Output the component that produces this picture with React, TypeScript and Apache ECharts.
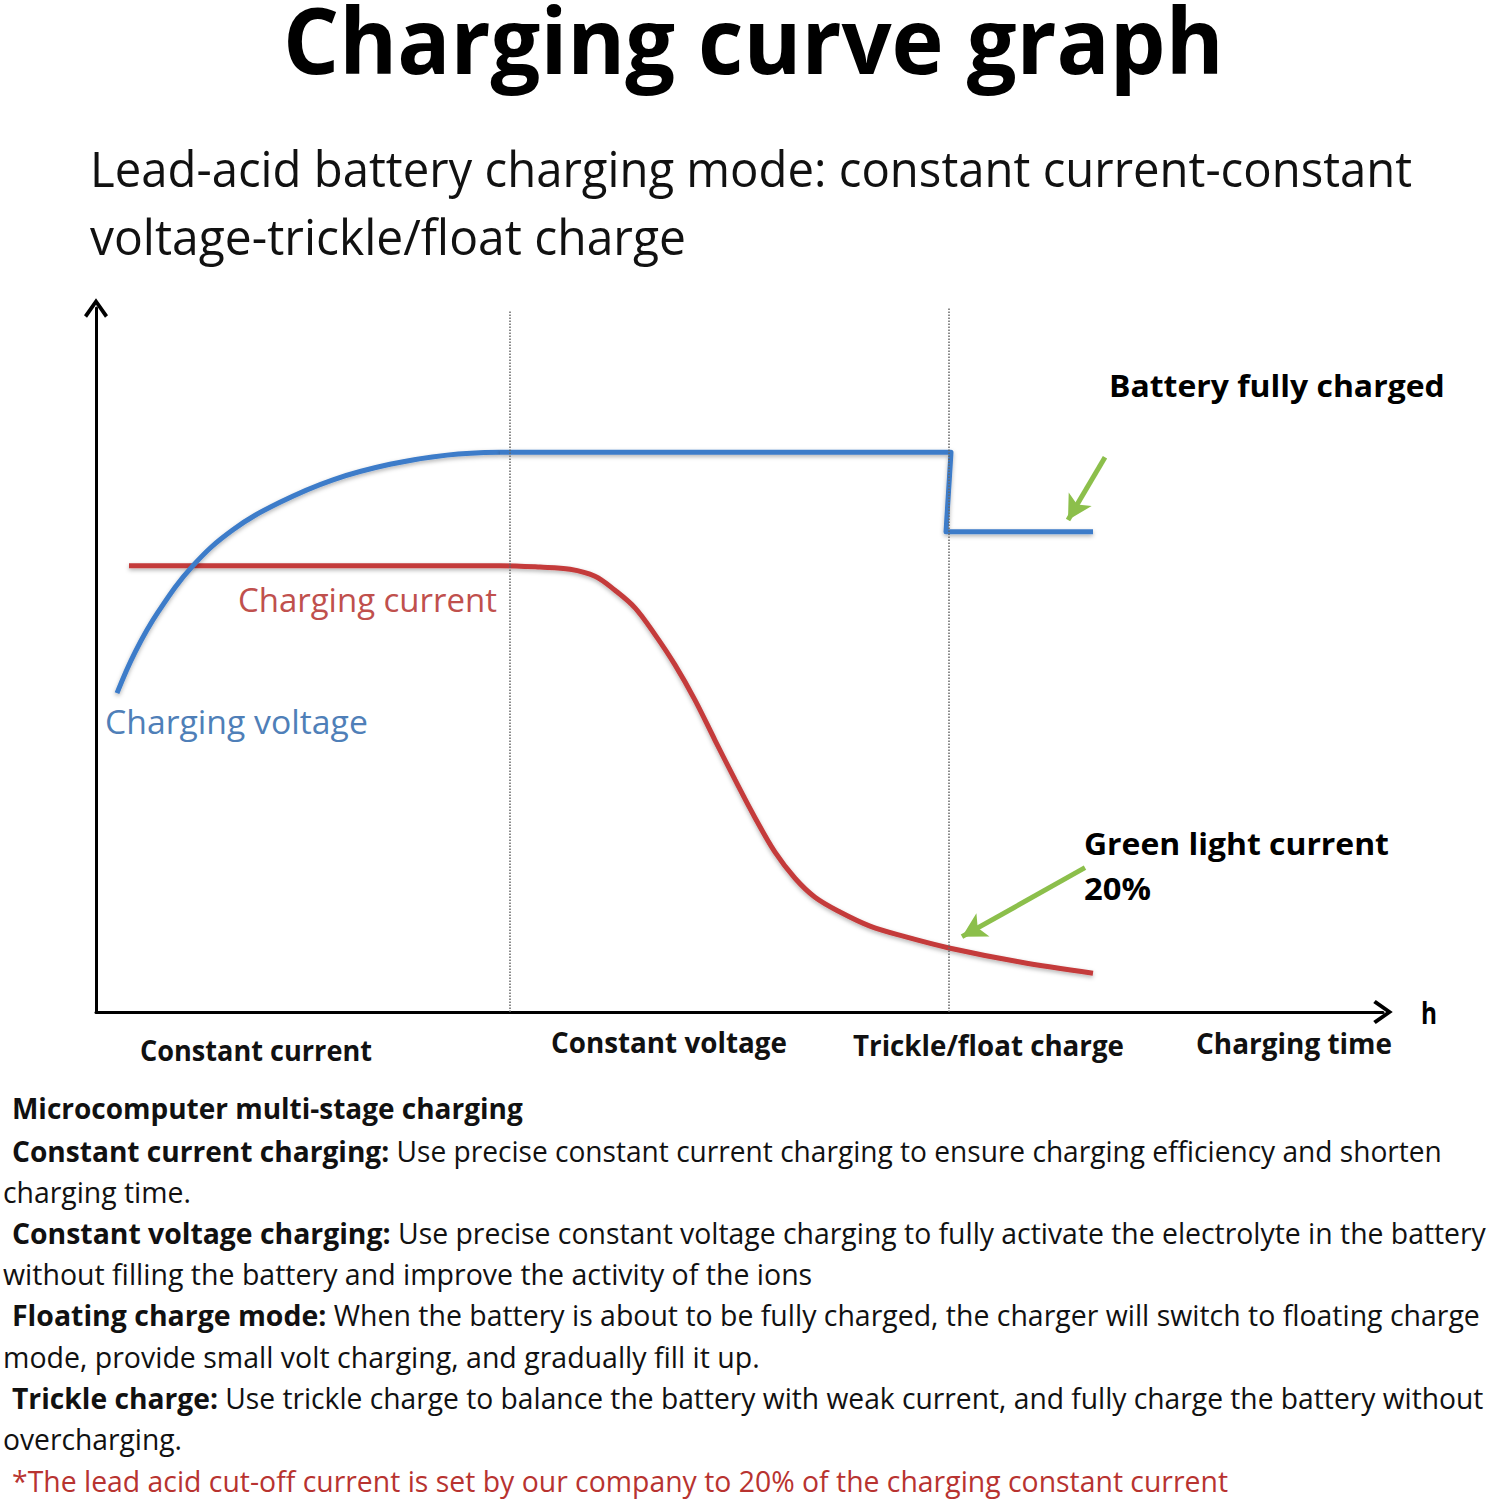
import React, { useEffect, useRef } from "react";
import * as echarts from "echarts";

// ---------- data (x: time units, y: relative level 0-100) ----------
const voltageRise: number[][] = [
  [2.1, 45.3], [3.9, 51.1], [6.2, 56.8], [9.7, 63.4], [13.7, 68.5],
  [18.4, 72.4], [23.7, 75.6], [29.4, 77.8], [35.1, 79.1], [40.4, 79.5],
];
const voltageHold: number[][] = [
  [40.4, 79.5], [85.5, 79.5], [85.0, 68.2], [99.7, 68.2],
];
const chargingCurrent: number[][] = [
  [3.3, 63.4], [40.4, 63.4], [44.4, 63.2], [47.4, 62.9], [49.9, 61.9],
  [51.9, 59.9], [53.9, 57.4], [55.9, 53.6], [57.9, 49.3], [59.9, 44.3],
  [61.9, 38.6], [63.9, 33.0], [65.9, 27.6], [67.9, 22.7], [69.9, 19.0],
  [71.9, 16.3], [74.4, 14.2], [77.4, 12.2], [80.9, 10.7], [85.3, 9.1],
  [92.4, 7.1], [99.7, 5.5],
];
const stageBounds: number[] = [41.4, 85.3];
const stageBoundTops: number[] = [99.7, 100];
const calloutArrows: number[][][] = [
  [[100.9, 78.8], [97.2, 69.9]],
  [[98.9, 20.5], [86.6, 10.7]],
];

const titleText = "Charging curve graph";
const subtitleLines = [
  "Lead-acid battery charging mode: constant current-constant",
  "voltage-trickle/float charge",
];
const phaseLabels = ["Constant current", "Constant voltage", "Trickle/float charge", "Charging time"];
const axisUnit = "h";
const currentLabel = "Charging current";
const voltageLabel = "Charging voltage";
const fullLabel = "Battery fully charged";
const greenLabel = ["Green light current", "20%"];
const noteHeading = "Microcomputer multi-stage charging";
const noteLines: { bold: string; rest: string }[] = [
  { bold: "Constant current charging:", rest: "Use precise constant current charging to ensure charging efficiency and shorten" },
  { bold: "", rest: "charging time." },
  { bold: "Constant voltage charging:", rest: "Use precise constant voltage charging to fully activate the electrolyte in the battery" },
  { bold: "", rest: "without filling the battery and improve the activity of the ions" },
  { bold: "Floating charge mode:", rest: "When the battery is about to be fully charged, the charger will switch to floating charge" },
  { bold: "", rest: "mode, provide small volt charging, and gradually fill it up." },
  { bold: "Trickle charge:", rest: "Use trickle charge to balance the battery with weak current, and fully charge the battery without" },
  { bold: "", rest: "overcharging." },
];
const footnote = "*The lead acid cut-off current is set by our company to 20% of the charging constant current";

// ---------- helpers ----------
const FONT = '"Open Sans", "Noto Sans", sans-serif';
let measureCtx: CanvasRenderingContext2D | null = null;
function measure(text: string, size: number, weight: string | number): number {
  if (!measureCtx) measureCtx = document.createElement("canvas").getContext("2d");
  if (!measureCtx) return text.length * size * 0.5;
  measureCtx.font = `${weight} ${size}px "Open Sans"`;
  return measureCtx.measureText(text).width;
}
function txt(text: string, x: number, y: number, size: number, weight: string | number, color: string, sx: number) {
  return {
    type: "text", x, y, scaleX: sx, z: 100, silent: true,
    style: { text, fontSize: size, fontWeight: weight, fontFamily: FONT, fill: color, align: "left", verticalAlign: "middle" },
  };
}
function fitted(text: string, left: number, right: number, y: number, size: number, weight: string | number, color: string) {
  const w = measure(text, size, weight);
  return txt(text, left, y, size, weight, color, (right - left) / w);
}
function mixed(bold: string, rest: string, left: number, right: number, y: number, size: number, color: string) {
  if (!bold) return [fitted(rest, left, right, y, size, "normal", color)];
  const wb = measure(bold + " ", size, "bold");
  const wr = measure(rest, size, "normal");
  const s = (right - left) / (wb + wr);
  return [
    txt(bold, left, y, size, "bold", color, s),
    txt(rest, left + wb * s, y, size, "normal", color, s),
  ];
}

const ARROW = "path://M12,0 L24,17 L21,19.5 L12,6.5 L3,19.5 L0,17 Z";

export default function App() {
  const ref = useRef<HTMLDivElement>(null);
  useEffect(() => {
    document.body.style.margin = "0";
    if (!ref.current) return;
    const chart = echarts.init(ref.current, null, { renderer: "svg" });

    const noteBounds = [
      [12, 1442, 1150], [3, 191, 1191], [12, 1486, 1232], [3, 812, 1273],
      [12, 1480, 1314], [3, 760, 1356], [12, 1483, 1397], [3, 182, 1438],
    ];
    const phaseBounds = [[140, 372, 1050], [551, 787, 1042], [853, 1124, 1045], [1196, 1392, 1043]];
    const graphics: any[] = [
      fitted(titleText, 283, 1224, 38, 92, "bold", "#000"),
      fitted(subtitleLines[0], 90, 1413, 167, 50, "normal", "#111"),
      fitted(subtitleLines[1], 90, 686, 236, 50, "normal", "#111"),
      fitted(currentLabel, 238, 497, 600, 32, "normal", "#c0504d"),
      fitted(voltageLabel, 105, 368, 722, 32, "normal", "#4f7fb8"),
      fitted(fullLabel, 1109, 1445, 385, 31, "bold", "#000"),
      fitted(greenLabel[0], 1084, 1389, 843, 31, "bold", "#000"),
      fitted(greenLabel[1], 1084, 1151, 888, 31, "bold", "#000"),
      fitted(axisUnit, 1421, 1437, 1012, 30, "bold", "#000"),
      ...phaseLabels.map((t, i) => fitted(t, phaseBounds[i][0], phaseBounds[i][1], phaseBounds[i][2], 28, "bold", "#111")),
      fitted(noteHeading, 12, 523, 1108, 29, "bold", "#111"),
      ...noteLines.flatMap((l, i) => mixed(l.bold, l.rest, noteBounds[i][0], noteBounds[i][1], noteBounds[i][2], 29, "#111")),
      fitted(footnote, 12, 1229, 1480, 29, "normal", "#b83330"),
    ];

    const shadow = { shadowColor: "rgba(0,0,0,0.3)", shadowBlur: 4, shadowOffsetY: 2 };
    const axisCommon = {
      type: "value",
      axisTick: { show: false },
      axisLabel: { show: false },
      splitLine: { show: false },
      axisLine: {
        show: true, onZero: false,
        lineStyle: { color: "#000", width: 3 },
        symbol: ["none", ARROW], symbolSize: [24, 20],
      },
    };

    chart.setOption({
      animation: false,
      backgroundColor: "#fff",
      grid: { left: 96, top: 308, width: 1287, height: 704 },
      xAxis: { ...axisCommon, min: 0, max: 128.7 },
      yAxis: { ...axisCommon, min: 0, max: 100 },
      graphic: graphics,
      series: [
        {
          type: "line", name: "stages", data: [], silent: true,
          markLine: {
            silent: true, symbol: ["none", "none"], label: { show: false },
            lineStyle: { color: "#666", width: 1.5, type: "dotted" },
            data: stageBounds.map((x, i) => [{ coord: [x, 0] }, { coord: [x, stageBoundTops[i]] }]),
          },
        },
        {
          type: "line", name: "Charging current", data: chargingCurrent, smooth: 0.35,
          symbol: "none", lineStyle: { color: "#c43b3b", width: 5, ...shadow },
        },
        {
          type: "line", name: "Charging voltage", data: voltageRise, smooth: 0.4,
          symbol: "none", lineStyle: { color: "#3d7cc9", width: 5, ...shadow },
        },
        {
          type: "line", name: "Charging voltage hold", data: voltageHold, smooth: false,
          symbol: "none", lineStyle: { color: "#3d7cc9", width: 5, join: "round", ...shadow },
        },
        {
          type: "line", name: "callouts", data: [], silent: true, z: 5,
          markLine: {
            silent: true, symbol: ["none", "arrow"], symbolSize: [20, 24], label: { show: false },
            lineStyle: { color: "#8cbf4b", width: 5, type: "solid" },
            data: calloutArrows.map((a) => [{ coord: a[0] }, { coord: a[1] }]),
          },
        },
      ],
    });
    return () => chart.dispose();
  }, []);
  return <div ref={ref} style={{ width: 1489, height: 1500 }} />;
}
